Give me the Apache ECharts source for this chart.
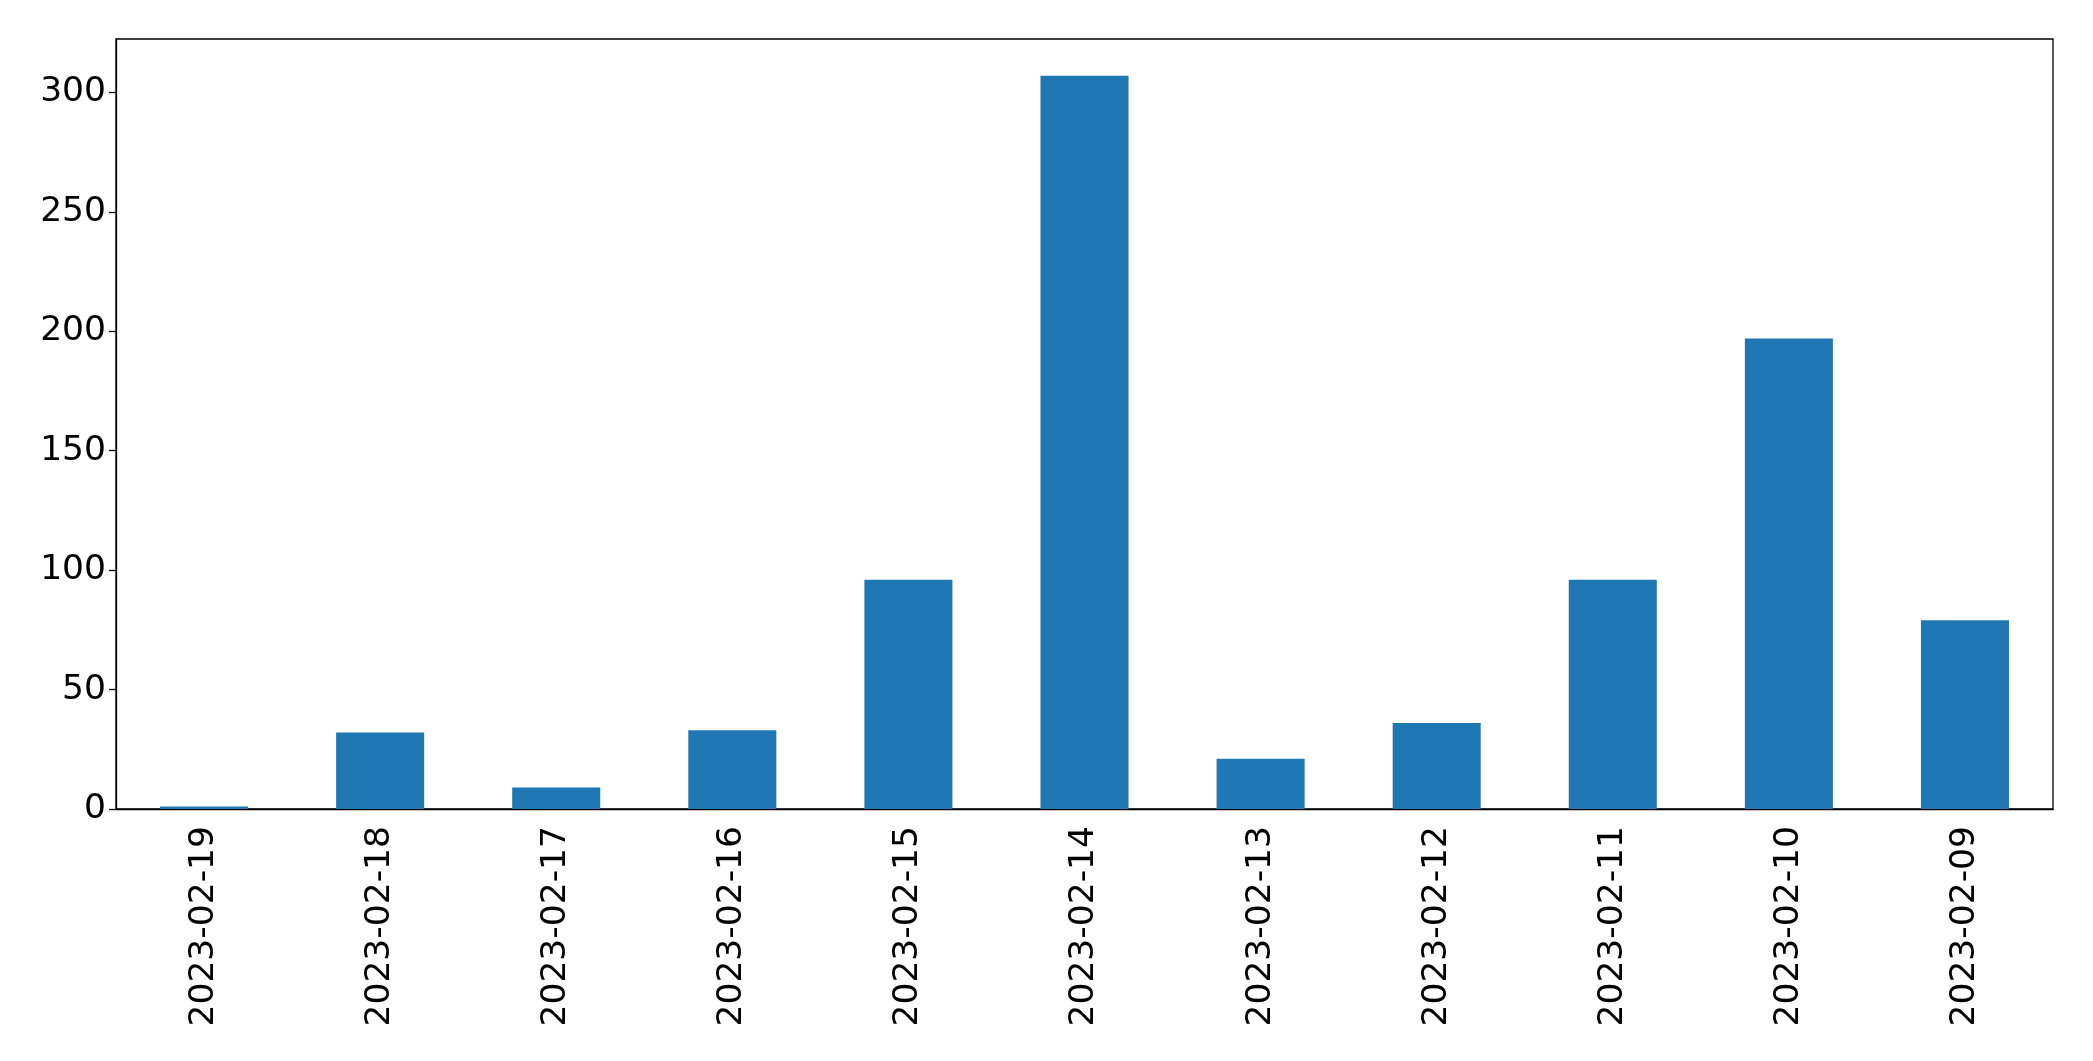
<!DOCTYPE html>
<html>
<head>
<meta charset="utf-8">
<script src="https://cdn.jsdelivr.net/npm/echarts@6/dist/echarts.min.js"></script>
<style>
  html, body { margin: 0; padding: 0; background: #fff; }
  #chart { width: 2093px; height: 1061px; }
</style>
</head>
<body>
<div id="chart"></div>
<script>
// dates (newest first, as in the original)
const dates = ['2023-02-19', '2023-02-18', '2023-02-17', '2023-02-16', '2023-02-15',
    '2023-02-14', '2023-02-13', '2023-02-12', '2023-02-11', '2023-02-10', '2023-02-09']
const counts = [1, 32, 9, 33, 96, 307, 21, 36, 96, 197, 79]
const yTicks = [0, 50, 100, 150, 200, 250, 300]

const font = 'DejaVu Sans'
const yMax = Math.max(...counts) * 1.05

let myChart = echarts.init(document.getElementById('chart'))
let option = {
    animation: false,
    grid: {
        left: 116, right: 40, top: 39, bottom: 252,
        show: true, borderColor: '#000', borderWidth: 1.3,
        containLabel: false
    },
    xAxis: {
        type: 'category',
        data: dates,
        axisLine: { lineStyle: { color: '#000', width: 1.3 } },
        axisTick: { alignWithLabel: true, length: 7, lineStyle: { color: '#000', width: 1.3 } },
        axisLabel: {
            rotate: 90, margin: 17, color: '#000',
            fontFamily: font, fontSize: 34.5
        }
    },
    yAxis: {
        type: 'value',
        min: 0,
        max: yMax,
        interval: 50,
        splitLine: { show: false },
        axisLine: { show: true, lineStyle: { color: '#000', width: 1.3 } },
        axisTick: { show: true, length: 7, lineStyle: { color: '#000', width: 1.3 } },
        axisLabel: {
            margin: 10, color: '#000', fontFamily: font, fontSize: 34.5,
            padding: [5, 0, 0, 0],
            showMaxLabel: false,
            formatter: v => yTicks.includes(v) ? String(v) : ''
        }
    },
    series: [{
        type: 'bar',
        data: counts,
        barWidth: '50%',
        itemStyle: { color: '#1f77b4' }
    }]
}
myChart.setOption(option)
</script>
</body>
</html>
